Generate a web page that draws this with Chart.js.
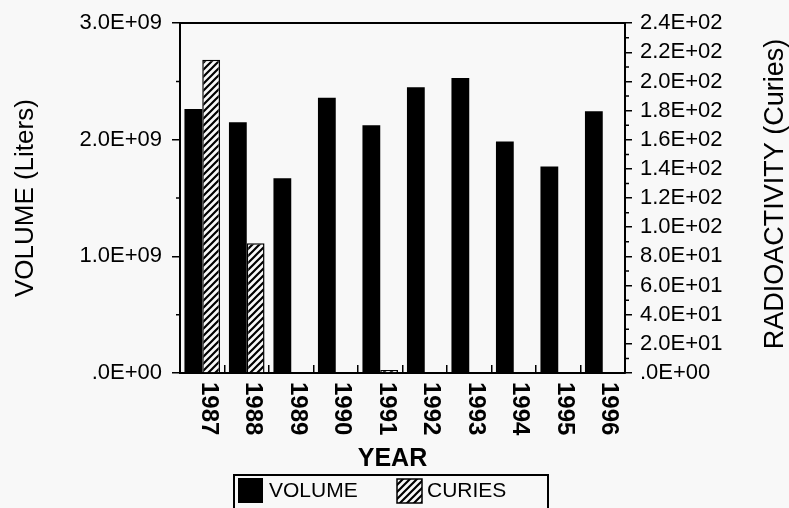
<!DOCTYPE html>
<html>
<head>
<meta charset="utf-8">
<title>Volume and radioactivity by year</title>
<script src="https://cdn.jsdelivr.net/npm/chart.js@4.4.0/dist/chart.umd.min.js"></script>
<style>
  body { margin: 0; background: #f8f8f8; }
  #wrap { width: 789px; height: 508px; }
</style>
</head>
<body>
<div id="wrap"><canvas id="barChart" width="789" height="508"></canvas></div>
<script>
// values
var years = ['1987', '1988', '1989', '1990', '1991', '1992', '1993', '1994', '1995', '1996'];
var volumeLiters = [2.265e9, 2.15e9, 1.67e9, 2.36e9, 2.125e9, 2.45e9, 2.53e9, 1.985e9, 1.77e9, 2.245e9];
var curies = [215, 89, 0, 0, 2, 0, 0, 0, 0, 0];

var volumeTickLabels = ['.0E+00', '1.0E+09', '2.0E+09', '3.0E+09'];
var curieTickLabels = ['.0E+00', '2.0E+01', '4.0E+01', '6.0E+01', '8.0E+01', '1.0E+02', '1.2E+02',
                       '1.4E+02', '1.6E+02', '1.8E+02', '2.0E+02', '2.2E+02', '2.4E+02'];

var FONT = '"Liberation Sans", Arial, sans-serif';
var BG = '#f8f8f8';

var canvas = document.getElementById('barChart');
var ctx = canvas.getContext('2d');

// diagonal hatch for the curies bars
function makeHatch() {
    var c = document.createElement('canvas');
    c.width = 7;
    c.height = 7;
    var g = c.getContext('2d');
    g.fillStyle = BG;
    g.fillRect(0, 0, 7, 7);
    g.strokeStyle = '#000';
    g.lineWidth = 2.2;
    g.beginPath();
    g.moveTo(-1, 8); g.lineTo(8, -1);
    g.moveTo(-1, 1); g.lineTo(1, -1);
    g.moveTo(6, 8); g.lineTo(8, 6);
    g.stroke();
    return ctx.createPattern(c, 'repeat');
}
var hatch = makeHatch();

// stuff chart.js can't do out of the box: minor ticks, top-down year labels,
// right title reading upwards, boxed legend
var extras = {
    id: 'extras',
    afterDraw: function (chart) {
        var c = chart.ctx;
        var x = chart.scales.x, y = chart.scales.y, y1 = chart.scales.y1;
        var area = chart.chartArea;
        c.save();
        c.strokeStyle = '#000';
        c.fillStyle = '#000';
        c.lineWidth = 1.5;

        // minor ticks
        c.beginPath();
        for (var v = 0.5e9; v < 3e9; v += 1e9) {
            var py = y.getPixelForValue(v);
            c.moveTo(area.left - 4, py);
            c.lineTo(area.left + 1, py);
        }
        for (var w = 10; w < 240; w += 20) {
            var qy = y1.getPixelForValue(w);
            c.moveTo(area.right, qy);
            c.lineTo(area.right + 4, qy);
        }
        c.stroke();

        // year labels
        c.font = 'bold 24px ' + FONT;
        c.textAlign = 'left';
        c.textBaseline = 'middle';
        years.forEach(function (yr, i) {
            c.save();
            c.translate(x.getPixelForValue(i) + 6, area.bottom + 9);
            c.rotate(Math.PI / 2);
            c.fillText(yr, 0, 0);
            c.restore();
        });

        // x title
        c.font = 'bold 25px ' + FONT;
        c.textAlign = 'center';
        c.textBaseline = 'alphabetic';
        c.fillText('YEAR', chart.width / 2 - 2, 466);

        // right title
        c.save();
        c.translate(776, (area.top + area.bottom) / 2 - 4);
        c.rotate(-Math.PI / 2);
        c.font = '27px ' + FONT;
        c.textBaseline = 'middle';
        c.fillText('RADIOACTIVITY (Curies)', 0, 0);
        c.restore();

        // legend
        var ds = chart.data.datasets;
        c.lineWidth = 2;
        c.strokeRect(234, 475, 314, 45);
        c.fillStyle = ds[0].backgroundColor;
        c.fillRect(238, 478, 25, 25);
        c.fillStyle = ds[1].backgroundColor;
        c.fillRect(397, 479, 25, 24);
        c.lineWidth = 1.5;
        c.strokeRect(397, 479, 25, 24);
        c.fillStyle = '#000';
        c.font = '21px ' + FONT;
        c.textAlign = 'left';
        c.fillText(ds[0].label, 269, 497);
        c.fillText(ds[1].label, 427, 497);
        c.restore();
    }
};

var barChart = new Chart(ctx, {
    type: 'bar',
    data: {
        labels: years,
        datasets: [{
            label: 'VOLUME',
            data: volumeLiters,
            yAxisID: 'y',
            backgroundColor: '#000',
            borderWidth: 0,
            barPercentage: 1.0,
            categoryPercentage: 0.8
        }, {
            label: 'CURIES',
            data: curies,
            yAxisID: 'y1',
            backgroundColor: hatch,
            borderColor: '#000',
            borderWidth: function (c) { return c.raw ? 1.5 : 0; },
            barPercentage: 1.0,
            categoryPercentage: 0.8
        }]
    },
    options: {
        responsive: false,
        animation: false,
        layout: { padding: { top: 21 } },
        plugins: {
            legend: { display: false },
            tooltip: { enabled: false }
        },
        scales: {
            x: {
                grid: { offset: true, drawOnChartArea: false, tickLength: -8, color: '#000', lineWidth: 1.5 },
                border: { color: '#000', width: 2 },
                ticks: { display: false },
                afterFit: function (s) { s.height = 135; }
            },
            x2: {
                type: 'category',
                position: 'top',
                grid: { display: false },
                ticks: { display: false },
                border: { color: '#000', width: 2 },
                afterFit: function (s) { s.height = 0; }
            },
            y: {
                position: 'left',
                min: 0,
                max: 3e9,
                ticks: {
                    stepSize: 1e9,
                    autoSkip: false,
                    color: '#000',
                    padding: 10,
                    font: { family: FONT, size: 22 },
                    callback: function (v, i) { return volumeTickLabels[i]; }
                },
                grid: { drawOnChartArea: false, tickLength: 8, color: '#000', lineWidth: 1.5 },
                border: { color: '#000', width: 2 },
                title: {
                    display: true,
                    text: 'VOLUME (Liters)',
                    color: '#000',
                    font: { family: FONT, size: 26 },
                    padding: { top: 10, bottom: 0 }
                },
                afterFit: function (s) { s.width = 180; }
            },
            y1: {
                position: 'right',
                min: 0,
                max: 240,
                ticks: {
                    stepSize: 20,
                    autoSkip: false,
                    color: '#000',
                    padding: 8,
                    font: { family: FONT, size: 22 },
                    callback: function (v, i) { return curieTickLabels[i]; }
                },
                grid: { drawOnChartArea: false, tickLength: 7, color: '#000', lineWidth: 1.5 },
                border: { color: '#000', width: 2 },
                afterFit: function (s) { s.width = 164; }
            }
        }
    },
    plugins: [extras]
});
</script>
</body>
</html>
